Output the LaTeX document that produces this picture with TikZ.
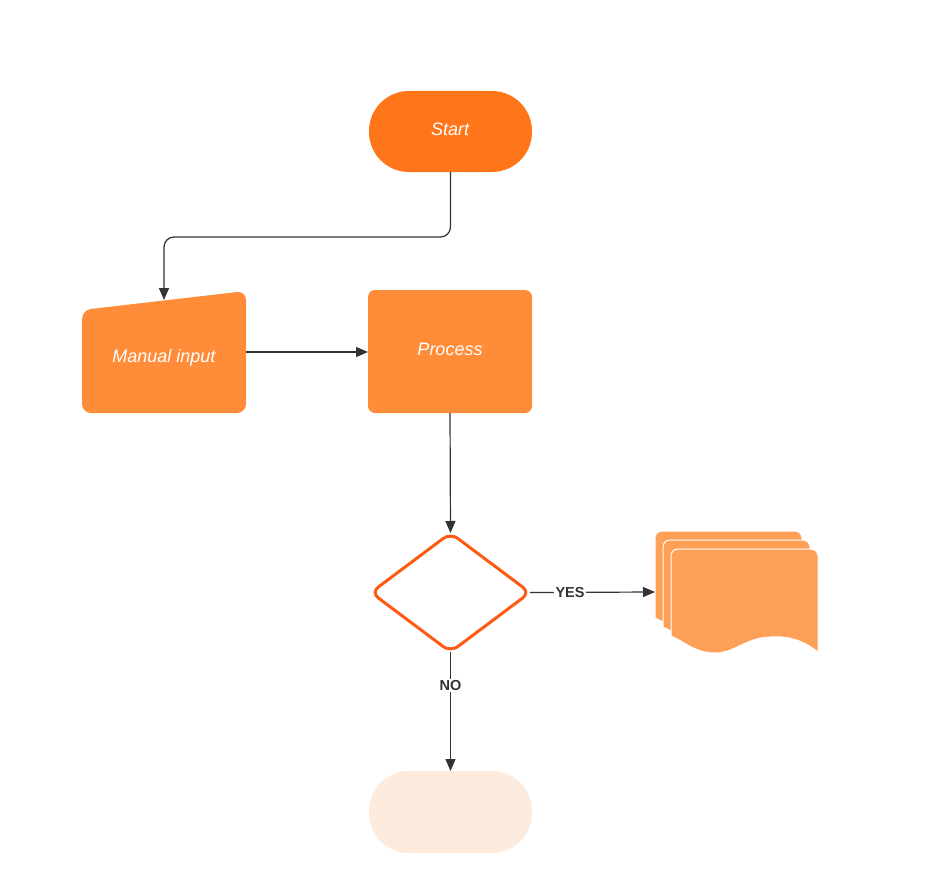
\documentclass[tikz,border=0pt]{standalone}
\usepackage{fontspec}
\setmainfont{Liberation Sans}
\usetikzlibrary{arrows.meta}
\definecolor{startC}{HTML}{FF761A}
\definecolor{procC}{HTML}{FF8C38}
\definecolor{docC}{HTML}{FFA057}
\definecolor{endC}{HTML}{FDEBDD}
\definecolor{decC}{HTML}{FF5A14}
\definecolor{lineC}{HTML}{333333}
\tikzset{
  conn/.style={draw=lineC, line width=1.2pt, -{Triangle[length=12pt,width=10pt]}},
  lbl/.style={fill=white, text=lineC, inner sep=1.5pt, font=\fontsize{14.5}{17}\selectfont\bfseries},
  wtext/.style={text=white, font=\fontsize{18}{21}\selectfont\itshape},
  box/.style={inner sep=0pt, outer sep=0pt},
  docshape/.style={fill=docC, draw=white, line width=1pt}
}
\begin{document}
\begin{tikzpicture}[x=1pt, y=-1pt]
\useasboundingbox (0,0) rectangle (928,880);
% Start
\node[box, fill=startC, rounded corners=40pt, minimum width=163pt, minimum height=81pt] (start) at (450.5,131.5) {};
\node[wtext] (starttext) at (450,129) {Start};
% Manual input
\node[box, minimum width=164pt, minimum height=113pt] (man) at (164,356.5) {};
\fill[procC, rounded corners=9pt] (82,310) -- (246,291) -- (246,413) -- (82,413) -- cycle;
\node[wtext] (mantext) at (164,358) {Manual input};
% Process
\node[box, fill=procC, rounded corners=7pt, minimum width=164pt, minimum height=123pt] (proc) at (450,351.5) {};
\node[wtext] (proctext) at (450,349) {Process};
% Decision
\node[box, minimum width=159pt, minimum height=119pt] (dec) at (450.5,592.5) {};
\draw[decC, line width=3pt, rounded corners=9pt] (dec.north) -- (dec.east) -- (dec.south) -- (dec.west) -- cycle;
% Documents
\foreach \dx/\dy in {-16/-18, -8/-9, 0/0}{
  \begin{scope}[shift={(\dx,\dy)}]
    \path[docshape] (671,636) -- (671,556) arc[start angle=180, end angle=270, x radius=7pt, y radius=-7pt]
      -- (811,549) arc[start angle=270, end angle=360, x radius=7pt, y radius=-7pt]
      -- (818,652) .. controls (800,638) and (785,636) .. (770,637)
      .. controls (745,638) and (735,653) .. (715,653)
      .. controls (695,653) and (685,642) .. (671,636) -- cycle;
  \end{scope}
}
\node[box, minimum width=163pt, minimum height=40pt] (docs) at (736.5,592) {};
% End terminal
\node[box, fill=endC, rounded corners=40pt, minimum width=163pt, minimum height=82pt] (end) at (450.5,812) {};
% Connectors
\draw[conn, rounded corners=10pt] (start.south) -- (start.south |- 0,237) -- (man.north |- 0,237) -- (man.north);
\draw[conn] (man.east |- 0,352) -- (proc.west |- 0,352);
\draw[conn] (proc.south) -- (dec.north);
\draw[conn] (dec.east) -- node[lbl, pos=0.32] {YES} (docs.west);
\draw[conn] (dec.south) -- node[lbl, pos=0.28] {NO} (end.north);
\end{tikzpicture}
\end{document}
